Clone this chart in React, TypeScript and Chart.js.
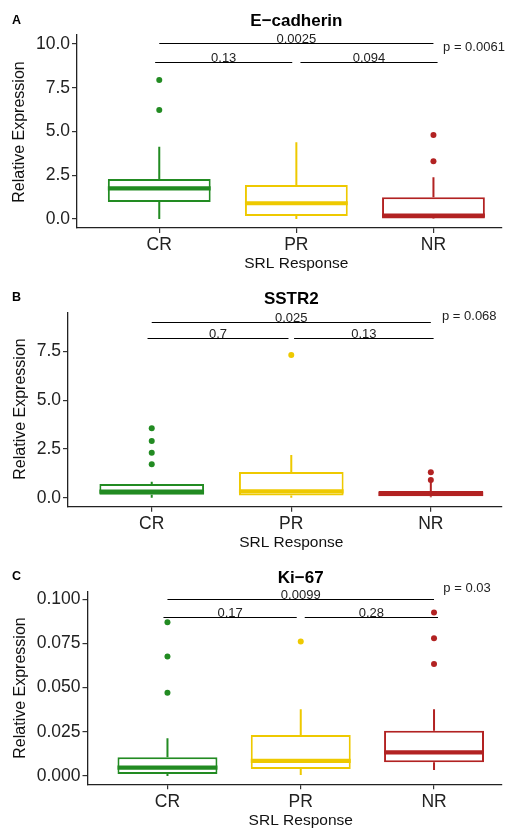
import React, { useEffect, useRef } from 'react';
import { Chart, registerables } from 'chart.js';

Chart.register(...registerables);

const CATEGORIES = ['CR', 'PR', 'NR'];
const COLORS = ['#228B22', '#EEC900', '#B22222'];
const FONT = "'Liberation Sans', Arial, Helvetica, sans-serif";

// ---- Panel A: E-cadherin ----
const ecadLow = [0, 0, 0];
const ecadQ1 = [0.97, 0.17, 0.03];
const ecadMedian = [1.75, 0.9, 0.2];
const ecadQ3 = [2.29, 1.94, 1.24];
const ecadHigh = [4.13, 4.38, 2.38];
const ecadOutliers = [[7.94, 6.23], [], [4.8, 3.3]];
const ecadTicks = [0, 2.5, 5, 7.5, 10];
const ecadComparisons = [
  { x1: 1, x2: 3, y: 10.04, label: '0.0025' },
  { x1: 0.97, x2: 1.97, y: 8.97, label: '0.13' },
  { x1: 2.03, x2: 3.03, y: 8.97, label: '0.094' },
];
const ecadP = 'p = 0.0061';

// ---- Panel B: SSTR2 ----
const sstrLow = [0, 0, 0.02];
const sstrQ1 = [0.15, 0.12, 0.08];
const sstrMedian = [0.31, 0.33, 0.2];
const sstrQ3 = [0.7, 1.32, 0.34];
const sstrHigh = [0.82, 2.19, 0.82];
const sstrOutliers = [[3.56, 2.91, 2.31, 1.72], [7.32], [1.3, 0.91]];
const sstrTicks = [0, 2.5, 5, 7.5];
const sstrComparisons = [
  { x1: 1, x2: 3, y: 9.03, label: '0.025' },
  { x1: 0.97, x2: 1.98, y: 8.17, label: '0.7' },
  { x1: 2.02, x2: 3.02, y: 8.17, label: '0.13' },
];
const sstrP = 'p = 0.068';

// ---- Panel C: Ki-67 ----
const kiLow = [0, 0.0006, 0.0034];
const kiQ1 = [0.0011, 0.004, 0.0077];
const kiMedian = [0.0047, 0.0085, 0.0134];
const kiQ3 = [0.0106, 0.0232, 0.0256];
const kiHigh = [0.0213, 0.0377, 0.0377];
const kiOutliers = [[0.0869, 0.0675, 0.0471], [0.076], [0.0924, 0.0779, 0.0633]];
const kiTicks = [0, 0.025, 0.05, 0.075, 0.1];
const kiComparisons = [
  { x1: 1, x2: 3, y: 0.1, label: '0.0099' },
  { x1: 0.97, x2: 1.97, y: 0.0898, label: '0.17' },
  { x1: 2.03, x2: 3.03, y: 0.0898, label: '0.28' },
];
const kiP = 'p = 0.03';

type Comparison = { x1: number; x2: number; y: number; label: string };
type PanelDef = {
  letter: string;
  title: string;
  low: number[];
  q1: number[];
  median: number[];
  q3: number[];
  high: number[];
  outliers: number[][];
  ticks: number[];
  decimals: number;
  comparisons: Comparison[];
  pText: string;
  pX: number;
  pY: number;
  yMin: number;
  yMax: number;
  xMax: number;
  canvasTop: number;
  canvasHeight: number;
  areaTop: number;
  areaBottom: number;
  areaLeft: number;
  letterY: number;
  titleY: number;
  xTitleY: number;
  yTitleX: number;
  yTitleY: number;
};

const panels: PanelDef[] = [
  {
    letter: 'A', title: 'E\u2212cadherin',
    low: ecadLow, q1: ecadQ1, median: ecadMedian, q3: ecadQ3, high: ecadHigh, outliers: ecadOutliers,
    ticks: ecadTicks, decimals: 1, comparisons: ecadComparisons, pText: ecadP, pX: 3.07, pY: 9.83,
    yMin: -0.514, yMax: 10.514, xMax: 3.5,
    canvasTop: 0, canvasHeight: 277, areaTop: 35, areaBottom: 228, areaLeft: 77,
    letterY: 20.5, titleY: 21, xTitleY: 264, yTitleX: 20, yTitleY: 132,
  },
  {
    letter: 'B', title: 'SSTR2',
    low: sstrLow, q1: sstrQ1, median: sstrMedian, q3: sstrQ3, high: sstrHigh, outliers: sstrOutliers,
    ticks: sstrTicks, decimals: 1, comparisons: sstrComparisons, pText: sstrP, pX: 3.08, pY: 9.28,
    yMin: -0.46, yMax: 9.47, xMax: 3.51,
    canvasTop: 277, canvasHeight: 278, areaTop: 313, areaBottom: 506.7, areaLeft: 68,
    letterY: 298, titleY: 299, xTitleY: 542.5, yTitleX: 21, yTitleY: 409,
  },
  {
    letter: 'C', title: 'Ki\u221267',
    low: kiLow, q1: kiQ1, median: kiMedian, q3: kiQ3, high: kiHigh, outliers: kiOutliers,
    ticks: kiTicks, decimals: 3, comparisons: kiComparisons, pText: kiP, pX: 3.07, pY: 0.1063,
    yMin: -0.0047, yMax: 0.1042, xMax: 3.51,
    canvasTop: 555, canvasHeight: 275, areaTop: 591.7, areaBottom: 784.3, areaLeft: 87.5,
    letterY: 577, titleY: 578, xTitleY: 821, yTitleX: 21, yTitleY: 688,
  },
];

const boxPlugin = {
  id: 'boxExtras',
  afterDatasetDraw(chart: any, args: any, opts: any) {
    if (args.index !== 0) return;
    const def: PanelDef = opts.def;
    const ctx = chart.ctx;
    const xs = chart.scales.x;
    const ys = chart.scales.y;
    const meta = chart.getDatasetMeta(0);
    ctx.save();
    for (let i = 0; i < CATEGORIES.length; i++) {
      const cx = xs.getPixelForValue(i + 1);
      ctx.strokeStyle = COLORS[i];
      ctx.lineWidth = 2;
      ctx.lineCap = 'butt';
      ctx.beginPath();
      ctx.moveTo(cx, ys.getPixelForValue(def.q3[i]));
      ctx.lineTo(cx, ys.getPixelForValue(def.high[i]));
      ctx.moveTo(cx, ys.getPixelForValue(def.q1[i]));
      ctx.lineTo(cx, ys.getPixelForValue(def.low[i]));
      ctx.stroke();
      const bar = meta.data[i];
      const w = bar.width;
      ctx.lineWidth = 4.2;
      ctx.beginPath();
      const my = ys.getPixelForValue(def.median[i]);
      ctx.moveTo(bar.x - w / 2, my);
      ctx.lineTo(bar.x + w / 2, my);
      ctx.stroke();
    }
    ctx.restore();
  },
  afterDraw(chart: any, _args: any, opts: any) {
    const def: PanelDef = opts.def;
    const ctx = chart.ctx;
    const xs = chart.scales.x;
    const ys = chart.scales.y;
    const off = def.canvasTop;
    ctx.save();
    ctx.fillStyle = '#000';
    ctx.font = `bold 12.5px ${FONT}`;
    ctx.textAlign = 'left';
    ctx.textBaseline = 'middle';
    ctx.fillText(def.letter, 12, def.letterY - off);
    ctx.font = `bold 17px ${FONT}`;
    ctx.textAlign = 'center';
    ctx.fillText(def.title, xs.getPixelForValue(2), def.titleY - off);
    ctx.font = `15.5px ${FONT}`;
    ctx.fillStyle = '#111';
    ctx.fillText('SRL Response', xs.getPixelForValue(2), def.xTitleY - off);
    ctx.save();
    ctx.translate(def.yTitleX, def.yTitleY - off);
    ctx.rotate(-Math.PI / 2);
    ctx.font = `16px ${FONT}`;
    ctx.fillText('Relative Expression', 0, 0);
    ctx.restore();
    ctx.strokeStyle = '#000';
    ctx.lineWidth = 1;
    ctx.font = `13px ${FONT}`;
    ctx.fillStyle = '#222';
    ctx.textBaseline = 'alphabetic';
    for (const c of def.comparisons) {
      const x1 = xs.getPixelForValue(c.x1);
      const x2 = xs.getPixelForValue(c.x2);
      const y = Math.round(ys.getPixelForValue(c.y)) + 0.5;
      ctx.beginPath();
      ctx.moveTo(x1, y);
      ctx.lineTo(x2, y);
      ctx.stroke();
      ctx.fillText(c.label, (x1 + x2) / 2, y - 1);
    }
    ctx.textAlign = 'left';
    ctx.textBaseline = 'middle';
    ctx.fillText(def.pText, xs.getPixelForValue(def.pX), ys.getPixelForValue(def.pY));
    ctx.restore();
  },
};

function Panel({ def }: { def: PanelDef }) {
  const ref = useRef<HTMLCanvasElement>(null);
  useEffect(() => {
    const boxData = CATEGORIES.map((_, i) => ({ x: i + 1, y: [def.q1[i], def.q3[i]] }));
    const outPts: { x: number; y: number }[] = [];
    const outCols: string[] = [];
    def.outliers.forEach((vals, i) => {
      vals.forEach((v) => {
        outPts.push({ x: i + 1, y: v });
        outCols.push(COLORS[i]);
      });
    });
    const chart = new Chart(ref.current as HTMLCanvasElement, {
      type: 'bar',
      data: {
        datasets: [
          {
            type: 'bar',
            data: boxData as any,
            backgroundColor: '#ffffff',
            borderColor: COLORS,
            borderWidth: 2,
            borderSkipped: false,
            barPercentage: 0.75,
            categoryPercentage: 1,
            order: 2,
          } as any,
          {
            type: 'scatter',
            data: outPts,
            backgroundColor: outCols,
            borderColor: outCols,
            pointRadius: 3,
            pointBorderWidth: 0,
            order: 1,
          } as any,
        ],
      },
      options: {
        responsive: false,
        animation: false,
        devicePixelRatio: 1,
        layout: { padding: { top: def.areaTop - def.canvasTop, right: 5, left: 0, bottom: 0 } },
        plugins: {
          legend: { display: false },
          tooltip: { enabled: false },
          boxExtras: { def },
        } as any,
        scales: {
          x: {
            type: 'linear',
            offset: false,
            min: 0.4,
            max: def.xMax,
            afterBuildTicks: (s: any) => {
              s.ticks = CATEGORIES.map((_, i) => ({ value: i + 1 }));
            },
            afterFit: (s: any) => {
              s.height = def.canvasTop + def.canvasHeight - def.areaBottom;
            },
            ticks: {
              autoSkip: false,
              maxRotation: 0,
              padding: 2,
              color: '#222',
              font: { size: 17.5, family: FONT },
              callback: (v: any) => CATEGORIES[Math.round(Number(v)) - 1] ?? '',
            },
            grid: { offset: false, drawOnChartArea: false, drawTicks: true, tickLength: 5, color: '#333', lineWidth: 1.2 },
            border: { display: true, color: '#222', width: 1.3 },
          },
          y: {
            type: 'linear',
            min: def.yMin,
            max: def.yMax,
            afterBuildTicks: (s: any) => {
              s.ticks = def.ticks.map((v) => ({ value: v }));
            },
            afterFit: (s: any) => {
              s.width = def.areaLeft;
            },
            ticks: {
              padding: 2,
              color: '#222',
              font: { size: 17.5, family: FONT },
              callback: (v: any) => Number(v).toFixed(def.decimals),
            },
            grid: { drawOnChartArea: false, drawTicks: true, tickLength: 5, color: '#333', lineWidth: 1.2 },
            border: { display: true, color: '#222', width: 1.3 },
          },
        },
      } as any,
      plugins: [boxPlugin as any],
    });
    return () => chart.destroy();
  }, [def]);
  return (
    <canvas
      ref={ref}
      width={507}
      height={def.canvasHeight}
      style={{ position: 'absolute', left: 0, top: def.canvasTop, width: 507, height: def.canvasHeight }}
    />
  );
}

export default function App() {
  return (
    <div style={{ position: 'absolute', left: 0, top: 0, width: 507, height: 830, background: '#fff' }}>
      {panels.map((p) => (
        <Panel key={p.letter} def={p} />
      ))}
    </div>
  );
}
